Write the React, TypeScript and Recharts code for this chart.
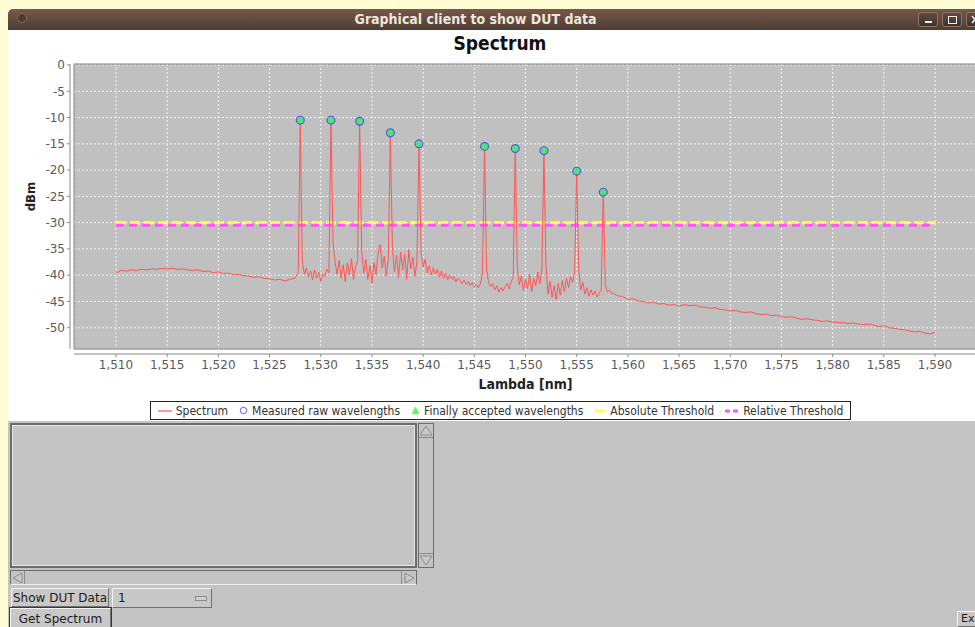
import {
  ComposedChart,
  Line,
  Scatter,
  XAxis,
  YAxis,
  CartesianGrid,
  ReferenceArea,
} from "recharts";

// spectrum is sampled in three segments, each with its own step
const blueSideStartNm = 1510;
const blueSideStepNm = 0.5;
const blueSideDbm = [
  -39.6, -39.1, -39.2, -39.0, -39.1, -38.9, // 1510
  -39.0, -38.8, -38.9, -38.7, -38.8, -38.7, // 1513
  -38.9, -38.8, -39.0, -39.1, -39.0, -39.3, // 1516
  -39.2, -39.5, -39.4, -39.7, -39.6, -39.9, // 1519
  -39.9, -40.1, -40.2, -40.4, -40.3, -40.6, // 1522
  -40.7, -40.9, -40.8, -41.1, -40.8, -40.5, // 1525
];

const channelStartNm = 1527.6;
const channelStepNm = 0.2;
const channelDbm = [
  -40.2, -39.6, -10.5, -37.4, -39.8, -38.6, -40.4, -39.2, -40.9, -39.0, // 1527.6
  -40.6, -39.4, -41.2, -39.8, -40.3, -38.9, -39.5, -10.5, -33.8, -37.5, // 1529.6
  -39.8, -37.2, -40.6, -38.0, -41.3, -37.6, -39.9, -36.8, -40.8, -38.4, // 1531.6
  -37.2, -10.7, -35.5, -39.6, -37.0, -40.8, -38.2, -41.5, -37.6, -39.9, // 1533.6
  -35.8, -34.2, -38.6, -36.4, -40.2, -36.8, -12.9, -34.8, -39.4, -36.2, // 1535.6
  -40.5, -35.6, -39.0, -36.0, -40.8, -35.2, -38.8, -36.6, -40.2, -37.4, // 1537.6
  -15.0, -35.6, -38.4, -37.0, -39.6, -38.2, -40.0, -38.6, -39.8, -38.9, // 1539.6
  -40.4, -39.2, -40.6, -39.6, -40.9, -40.0, -40.8, -40.2, -41.3, -40.6, // 1541.6
  -41.0, -41.6, -40.9, -41.8, -41.2, -42.0, -41.4, -42.3, -41.8, -42.4, // 1543.6
  -41.6, -39.6, -15.5, -38.8, -41.4, -42.2, -41.6, -42.8, -42.0, -43.2, // 1545.6
  -42.4, -43.0, -42.2, -41.6, -42.6, -41.2, -40.4, -15.9, -38.6, -41.8, // 1547.6
  -40.2, -43.0, -40.8, -42.6, -39.8, -43.2, -40.6, -42.0, -39.4, -41.6, // 1549.6
  -39.0, -16.3, -38.2, -43.6, -41.2, -44.2, -42.0, -44.6, -41.6, -43.8, // 1551.6
  -41.0, -43.2, -40.6, -42.4, -40.2, -41.4, -39.4, -20.2, -39.0, -42.8, // 1553.6
  -41.4, -43.6, -42.4, -44.0, -42.8, -43.8, -43.0, -44.2, -43.4, -42.6, // 1555.6
  -24.2, -42.0, -43.2, -42.8, -43.4, // 1557.6
];

const redSideStartNm = 1558.5;
const redSideStepNm = 0.5;
const redSideDbm = [
  -43.4, -43.9, -44.1, -44.6, -44.5, -44.9, -45.0, -45.3, // 1558.5
  -45.1, -45.5, -45.4, -45.7, -45.6, -45.9, -45.6, -45.8, // 1562.5
  -45.7, -46.0, -46.1, -46.3, -46.2, -46.5, -46.6, -46.8, // 1566.5
  -46.7, -47.0, -47.1, -47.0, -47.3, -47.5, -47.4, -47.7, // 1570.5
  -47.6, -47.9, -48.0, -47.9, -48.2, -48.4, -48.3, -48.5, // 1574.5
  -48.6, -48.8, -48.7, -48.9, -49.0, -49.0, -49.2, -49.1, // 1578.5
  -49.3, -49.4, -49.3, -49.5, -49.8, -49.6, -50.0, -50.1, // 1582.5
  -50.3, -50.4, -50.6, -50.8, -50.7, -51.0, -51.2, -50.9, // 1586.5
];

const peakNm = [1528.0, 1531.0, 1533.8, 1536.8, 1539.6, 1546.0, 1549.0, 1551.8, 1555.0, 1557.6];
const peakDbm = [-10.5, -10.5, -10.7, -12.9, -15.0, -15.5, -15.9, -16.3, -20.2, -24.2];

const absoluteThresholdDbm = -30;
const relativeThresholdDbm = -30.5;
const thresholdFromNm = 1510;
const thresholdToNm = 1590;

const xTicks = [
  1510, 1515, 1520, 1525, 1530, 1535, 1540, 1545, 1550, 1555, 1560, 1565, 1570, 1575, 1580, 1585, 1590,
];
const yTicks = [0, -5, -10, -15, -20, -25, -30, -35, -40, -45, -50];

const toRows = (start: number, step: number, values: number[]) =>
  values.map((dbm, i) => ({ nm: Math.round((start + i * step) * 100) / 100, dbm }));

const spectrum = [
  ...toRows(blueSideStartNm, blueSideStepNm, blueSideDbm),
  ...toRows(channelStartNm, channelStepNm, channelDbm),
  ...toRows(redSideStartNm, redSideStepNm, redSideDbm),
];
const peaks = peakNm.map((nm, i) => ({ nm, dbm: peakDbm[i] }));
const absoluteLine = [
  { nm: thresholdFromNm, dbm: absoluteThresholdDbm },
  { nm: thresholdToNm, dbm: absoluteThresholdDbm },
];
const relativeLine = [
  { nm: thresholdFromNm, dbm: relativeThresholdDbm },
  { nm: thresholdToNm, dbm: relativeThresholdDbm },
];

const sans = '"DejaVu Sans", "Liberation Sans", sans-serif';
const narrow = '"DejaVu Sans Condensed", "Liberation Sans Narrow", "DejaVu Sans", sans-serif';
const axisGray = "#8a8a8a";

function YTitle({ viewBox }: any) {
  const cx = viewBox.x + 22;
  const cy = viewBox.y + viewBox.height / 2 - 10;
  return (
    <text
      x={cx}
      y={cy}
      transform={`rotate(-90 ${cx} ${cy})`}
      textAnchor="middle"
      dominantBaseline="central"
      fontFamily={narrow}
      fontStretch="condensed"
      fontWeight="bold"
      fontSize={13}
      fill="#222"
    >
      dBm
    </text>
  );
}

function XTitle({ viewBox }: any) {
  const cx = viewBox.x + viewBox.width / 2;
  const cy = viewBox.y + 35;
  return (
    <text
      x={cx}
      y={cy}
      textAnchor="middle"
      dominantBaseline="central"
      fontFamily={narrow}
      fontStretch="condensed"
      fontWeight="bold"
      fontSize={14}
      fill="#222"
    >
      Lambda [nm]
    </text>
  );
}

const RawMark = (p: any) => (
  <circle cx={p.cx} cy={p.cy} r={3.9} fill="none" stroke="#4a5ad8" strokeWidth={1.2} />
);
const AcceptedMark = (p: any) => <circle cx={p.cx} cy={p.cy} r={3.5} fill="#55e07a" />;

const raised: any = {
  position: "absolute",
  boxSizing: "border-box",
  background: "#c8c8c8",
  borderTop: "1px solid #f4f4f4",
  borderLeft: "1px solid #f4f4f4",
  borderRight: "1px solid #707070",
  borderBottom: "1px solid #707070",
  fontFamily: sans,
  fontSize: 12,
  color: "#1c1c1c",
  display: "flex",
  alignItems: "center",
};

function Arrow({ dir }: { dir: "up" | "down" | "left" | "right" }) {
  const pts = {
    up: "1,10 7,1 13,10",
    down: "1,1 7,10 13,1",
    left: "10,1 1,6 10,11",
    right: "1,1 10,6 1,11",
  }[dir];
  return (
    <svg width={14} height={12} style={{ display: "block" }}>
      <polygon points={pts} fill="#c8c8c8" stroke="#8c8c8c" strokeWidth={1} />
    </svg>
  );
}

function LegendBox() {
  const item: any = { display: "flex", alignItems: "center", gap: 4 };
  return (
    <div
      style={{
        position: "absolute",
        left: 150,
        top: 401,
        width: 701,
        height: 19,
        boxSizing: "border-box",
        border: "1px solid #222",
        background: "#fff",
        display: "flex",
        alignItems: "center",
        justifyContent: "center",
        gap: 11,
        fontFamily: narrow,
        fontStretch: "condensed",
        fontSize: 12,
        color: "#333",
        whiteSpace: "nowrap",
      }}
    >
      <div style={item}>
        <svg width={14} height={8}>
          <line x1={0} y1={4} x2={14} y2={4} stroke="#ff5555" strokeWidth={1.2} />
        </svg>
        <span>Spectrum</span>
      </div>
      <div style={item}>
        <svg width={9} height={9}>
          <circle cx={4.5} cy={4.5} r={3.2} fill="none" stroke="#5555ff" strokeWidth={1} />
        </svg>
        <span>Measured raw wavelengths</span>
      </div>
      <div style={item}>
        <svg width={9} height={9}>
          <polygon points="4.5,0.5 8.5,8 0.5,8" fill="#55ff55" />
        </svg>
        <span>Finally accepted wavelengths</span>
      </div>
      <div style={item}>
        <svg width={12} height={8}>
          <line x1={1} y1={4} x2={11} y2={4} stroke="#ffff55" strokeWidth={3} />
        </svg>
        <span>Absolute Threshold</span>
      </div>
      <div style={item}>
        <svg width={14} height={8}>
          <line x1={0} y1={4} x2={14} y2={4} stroke="#ff55ff" strokeWidth={3} strokeDasharray="5 3" />
        </svg>
        <span>Relative Threshold</span>
      </div>
    </div>
  );
}

export default function App() {
  return (
    <div
      style={{
        position: "fixed",
        left: 0,
        top: 0,
        width: 975,
        height: 627,
        overflow: "hidden",
        background: "#fdfcd2",
      }}
    >
      {/* window title bar */}
      <div
        style={{
          position: "absolute",
          left: 8,
          top: 9,
          width: 1000,
          height: 21,
          borderTopLeftRadius: 5,
          background: "linear-gradient(#76594a, #4e3d33)",
        }}
      />
      <div
        style={{
          position: "absolute",
          left: 17,
          top: 13,
          width: 10,
          height: 10,
          borderRadius: "50%",
          background: "#4a3a31",
          border: "1px solid #7d6c62",
          boxSizing: "border-box",
        }}
      />
      <div
        style={{
          position: "absolute",
          left: 8,
          top: 9,
          width: 935,
          height: 21,
          lineHeight: "21px",
          textAlign: "center",
          fontFamily: narrow,
          fontStretch: "condensed",
          fontWeight: "bold",
          fontSize: 14,
          color: "#eee6dd",
        }}
      >
        Graphical client to show DUT data
      </div>
      {[918, 942, 966].map((x, i) => (
        <div
          key={x}
          style={{
            position: "absolute",
            left: x,
            top: 12,
            width: 20,
            height: 15,
            boxSizing: "border-box",
            borderRadius: 3,
            border: "1px solid #8d7566",
            background: "linear-gradient(#5f4b3f, #3f332c)",
          }}
        >
          {i === 0 && (
            <div style={{ position: "absolute", left: 6, top: 8, width: 7, height: 2, background: "#eee" }} />
          )}
          {i === 1 && (
            <div
              style={{
                position: "absolute",
                left: 5,
                top: 3,
                width: 9,
                height: 8,
                boxSizing: "border-box",
                border: "1.5px solid #eee",
              }}
            />
          )}
          {i === 2 && (
            <svg width={18} height={13} style={{ position: "absolute", left: 0, top: 0 }}>
              <line x1={5} y1={3} x2={11} y2={10} stroke="#eee" strokeWidth={1.6} />
              <line x1={11} y1={3} x2={5} y2={10} stroke="#eee" strokeWidth={1.6} />
            </svg>
          )}
        </div>
      ))}

      {/* chart panel */}
      <div style={{ position: "absolute", left: 8, top: 30, width: 1000, height: 391, background: "#fff" }} />
      <div
        style={{
          position: "absolute",
          left: 8,
          top: 32,
          width: 984,
          textAlign: "center",
          fontFamily: narrow,
          fontStretch: "condensed",
          fontWeight: "bold",
          fontSize: 19,
          color: "#111",
        }}
      >
        Spectrum
      </div>
      <div style={{ position: "absolute", left: 8, top: 30 }}>
        <ComposedChart width={984} height={391} margin={{ top: 34, right: 15, bottom: 0, left: 0 }}>
          <CartesianGrid
            fill="#c0c0c0"
            fillOpacity={1}
            stroke="#f2f2f2"
            strokeDasharray="2 2"
            strokeWidth={1}
          />
          <XAxis
            type="number"
            dataKey="nm"
            domain={[1505.9, 1594.1]}
            allowDataOverflow
            ticks={xTicks}
            interval={0}
            height={72}
            tickSize={3}
            tickMargin={8}
            tickFormatter={(v: number) => v.toLocaleString("en-US")}
            axisLine={{ stroke: axisGray, transform: "translate(0,5)" }}
            tickLine={{ stroke: axisGray, transform: "translate(0,5)" }}
            tick={{ fill: "#5a5a5a", fontSize: 12, fontFamily: sans }}
            label={{ content: <XTitle /> }}
          />
          <YAxis
            type="number"
            dataKey="dbm"
            domain={[-54.05, 0.19]}
            allowDataOverflow
            ticks={yTicks}
            interval={0}
            width={66}
            tickSize={3}
            tickMargin={6}
            axisLine={{ stroke: axisGray, transform: "translate(-4,0)" }}
            tickLine={{ stroke: axisGray, transform: "translate(-4,0)" }}
            tick={{ fill: "#5a5a5a", fontSize: 12, fontFamily: sans }}
            label={{ content: <YTitle /> }}
          />
          <ReferenceArea
            x1={1505.9}
            x2={1594.1}
            y1={-54.05}
            y2={0.19}
            fill="none"
            stroke="#7c7c7c"
            strokeWidth={1}
            ifOverflow="visible"
          />
          <Line
            data={absoluteLine}
            dataKey="dbm"
            type="linear"
            stroke="#ffff55"
            strokeWidth={3}
            strokeDasharray="10 4"
            dot={false}
            activeDot={false}
            isAnimationActive={false}
          />
          <Line
            data={relativeLine}
            dataKey="dbm"
            type="linear"
            stroke="#ff55ff"
            strokeWidth={3}
            strokeDasharray="8 5"
            dot={false}
            activeDot={false}
            isAnimationActive={false}
          />
          <Line
            data={spectrum}
            dataKey="dbm"
            type="linear"
            stroke="#ff5555"
            strokeWidth={1}
            dot={false}
            activeDot={false}
            isAnimationActive={false}
          />
          <Scatter data={peaks} dataKey="dbm" shape={AcceptedMark} isAnimationActive={false} />
          <Scatter data={peaks} dataKey="dbm" shape={RawMark} isAnimationActive={false} />
        </ComposedChart>
      </div>
      <LegendBox />

      {/* control panel */}
      <div style={{ position: "absolute", left: 8, top: 421, width: 1000, height: 220, background: "#c4c4c4" }} />
      <div
        style={{
          position: "absolute",
          left: 10,
          top: 423,
          width: 407,
          height: 145,
          boxSizing: "border-box",
          border: "2px solid #6c6c6c",
          boxShadow: "inset 1px 1px 0 #e6e6e6, inset -1px -1px 0 #e6e6e6",
          background: "#c3c3c3",
        }}
      />
      <div
        style={{
          position: "absolute",
          left: 418,
          top: 423,
          width: 16,
          height: 145,
          boxSizing: "border-box",
          border: "1px solid #6c6c6c",
          background: "#c4c4c4",
        }}
      >
        <div style={{ position: "absolute", left: 0, top: 1 }}>
          <Arrow dir="up" />
        </div>
        <div style={{ position: "absolute", left: 0, top: 13, width: 14, height: 1, background: "#8c8c8c" }} />
        <div style={{ position: "absolute", left: 0, top: 129, width: 14, height: 1, background: "#8c8c8c" }} />
        <div style={{ position: "absolute", left: 0, top: 131 }}>
          <Arrow dir="down" />
        </div>
      </div>
      <div
        style={{
          position: "absolute",
          left: 10,
          top: 570,
          width: 407,
          height: 15,
          boxSizing: "border-box",
          border: "1px solid #6c6c6c",
          borderBottom: "1px solid #f0f0f0",
          background: "#c4c4c4",
        }}
      >
        <div style={{ position: "absolute", left: 1, top: 1 }}>
          <Arrow dir="left" />
        </div>
        <div style={{ position: "absolute", left: 13, top: 0, width: 1, height: 13, background: "#8c8c8c" }} />
        <div style={{ position: "absolute", left: 390, top: 0, width: 1, height: 13, background: "#8c8c8c" }} />
        <div style={{ position: "absolute", left: 393, top: 1 }}>
          <Arrow dir="right" />
        </div>
      </div>
      <div style={{ ...raised, left: 11, top: 588, width: 98, height: 19, justifyContent: "center" }}>
        Show DUT Data
      </div>
      <div style={{ ...raised, left: 112, top: 588, width: 100, height: 20, paddingLeft: 5 }}>
        1
        <div
          style={{
            position: "absolute",
            left: 82,
            top: 7,
            width: 12,
            height: 5,
            boxSizing: "border-box",
            background: "#d0d0d0",
            border: "1px solid #8a8a8a",
          }}
        />
      </div>
      <div
        style={{
          ...raised,
          left: 10,
          top: 608,
          width: 101,
          height: 24,
          justifyContent: "center",
          alignItems: "flex-start",
          paddingTop: 3,
          outline: "1px solid #3a3a3a",
        }}
      >
        Get Spectrum
      </div>
      <div
        style={{
          ...raised,
          left: 957,
          top: 611,
          width: 40,
          height: 16,
          paddingLeft: 3,
          alignItems: "flex-start",
          fontSize: 11,
        }}
      >
        Ex
      </div>
    </div>
  );
}
